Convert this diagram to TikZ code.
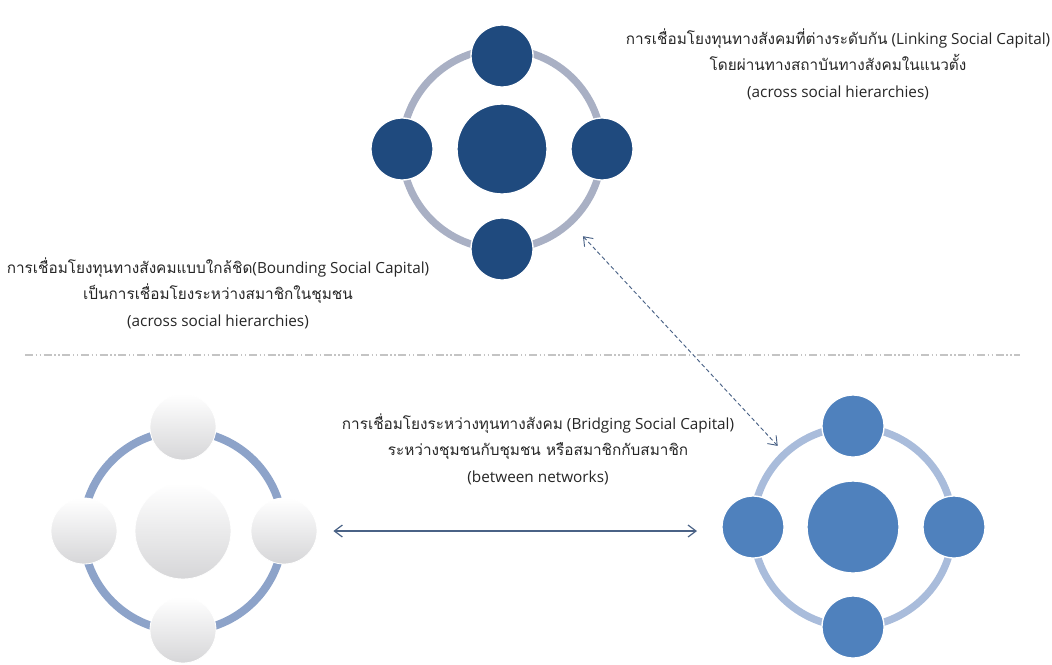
\documentclass[tikz,border=0pt]{standalone}
\usepackage{fontspec}
\setmainfont{Open Sans}
\newfontfamily\thaifont[Script=Thai]{Loma}
\usetikzlibrary{arrows.meta,calc}

\definecolor{linkfill}{HTML}{1F4A7E}
\definecolor{linkring}{HTML}{A9B0C4}
\definecolor{bridgefill}{HTML}{4F81BD}
\definecolor{bridgering}{HTML}{A9BCDB}
\definecolor{bondring}{HTML}{8DA3C9}
\definecolor{bondlow}{HTML}{D6D6D8}
\definecolor{arrowcol}{HTML}{4A6286}
\definecolor{divcol}{HTML}{C4C4C4}

\begin{document}
\begin{tikzpicture}[
  x=0.75pt, y=-0.75pt,
  font=\fontsize{11.5}{20}\selectfont,
  >={Straight Barb[length=6pt,width=9pt]},
  % Node Styles
  link_hub/.style={circle, fill=linkfill, draw=white, line width=1pt, inner sep=0pt, minimum size=67.5pt},
  link_sat/.style={link_hub, minimum size=46.5pt},
  bridge_hub/.style={circle, fill=bridgefill, draw=white, line width=1pt, inner sep=0pt, minimum size=69pt},
  bridge_sat/.style={bridge_hub, minimum size=46.5pt},
  bond_hub/.style={circle, top color=white, bottom color=bondlow, draw=white, line width=0.6pt, inner sep=0pt, minimum size=72pt},
  bond_sat/.style={bond_hub, minimum size=49.5pt},
  % Line Styles
  ring_link/.style={linkring, line width=5.5pt},
  ring_bridge/.style={bridgering, line width=5.5pt},
  ring_bond/.style={bondring, line width=6pt},
  dash_arrow/.style={<->, arrowcol, line width=0.7pt, dash pattern=on 3pt off 2pt},
  sig_arrow/.style={<->, arrowcol, line width=0.9pt},
  divider/.style={divcol, line width=1pt, dash pattern=on 6pt off 2pt on 1pt off 2pt on 1pt off 2pt},
  % Label Styles
  lbl/.style={align=center, inner sep=0pt, text=black!85}
]
\useasboundingbox (0,0) rectangle (1052,664);

% ================= NODES =================

% --- Linking (Top) ---
\node[link_hub] (link_hub) at (502,149) {};
\draw[ring_link] (link_hub.center) circle[radius=75pt];
\node[link_sat] (link_n) at (502,56) {};
\node[link_sat] (link_w) at (402,149) {};
\node[link_sat] (link_e) at (602,149) {};
\node[link_sat] (link_s) at (502,249) {};

% --- Bonding (Bottom Left) ---
\node[bond_hub] (bond_hub) at (183,531) {};
\draw[ring_bond] (bond_hub.center) circle[radius=75pt];
\node[bond_sat] (bond_n) at (183,427) {};
\node[bond_sat] (bond_w) at (84,531) {};
\node[bond_sat] (bond_e) at (284,531) {};
\node[bond_sat] (bond_s) at (183,630) {};

% --- Bridging (Bottom Right) ---
\node[bridge_hub] (bridge_hub) at (853,527) {};
\draw[ring_bridge] (bridge_hub.center) circle[radius=75pt];
\node[bridge_sat] (bridge_n) at (853,426) {};
\node[bridge_sat] (bridge_w) at (753,527) {};
\node[bridge_sat] (bridge_e) at (954,527) {};
\node[bridge_sat] (bridge_s) at (853,627) {};

% --- Labels ---
\node[lbl] (link_txt) at (838,64)
  {{\thaifont การเชื่อมโยงทุนทางสังคมที่ต่างระดับกัน} (Linking Social Capital)\\
   {\thaifont โดยผ่านทางสถาบันทางสังคมในแนวตั้ง}\\
   (across social hierarchies)};
\node[lbl] (bond_txt) at (218,293)
  {{\thaifont การเชื่อมโยงทุนทางสังคมแบบใกล้ชิด}(Bounding Social Capital)\\
   {\thaifont เป็นการเชื่อมโยงระหว่างสมาชิกในชุมชน}\\
   (across social hierarchies)};
\node[lbl] (bridge_txt) at (538,449)
  {{\thaifont การเชื่อมโยงระหว่างทุนทางสังคม} (Bridging Social Capital)\\
   {\thaifont ระหว่างชุมชนกับชุมชน หรือสมาชิกกับสมาชิก}\\
   (between networks)};

% ================= CONNECTIONS =================

% divider between levels
\draw[divider] (25,355) -- (1020,355);

% Linking <-> Bridging (dashed)
\draw[dash_arrow, shorten <=55pt, shorten >=48pt] (link_hub) -- (bridge_hub);

% Bonding <-> Bridging (kept level)
\draw[sig_arrow, shorten <=12pt, shorten >=42pt] (bond_e) -- (bond_e -| bridge_w);

\end{tikzpicture}
\end{document}
